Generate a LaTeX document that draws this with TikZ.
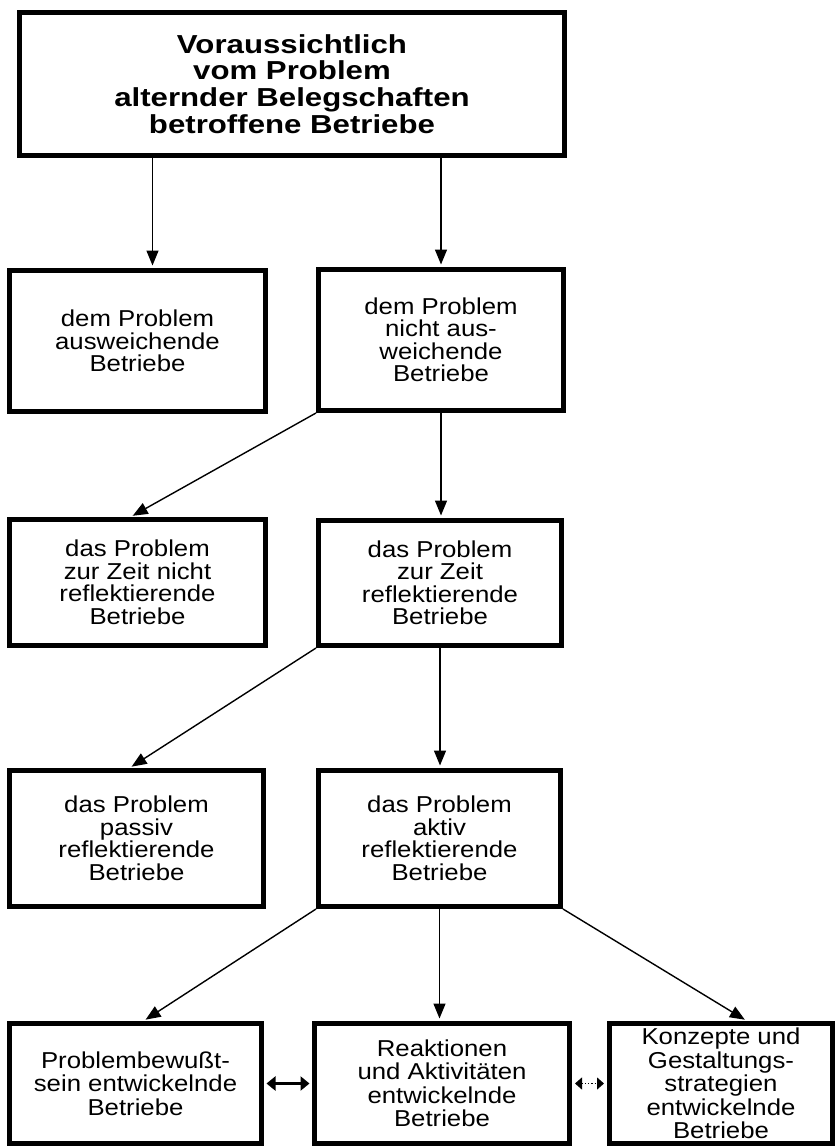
\documentclass[tikz,border=0pt]{standalone}
\usepackage{fontspec}
\setmainfont[FakeStretch=1.12]{Liberation Sans}
\newfontfamily\headfont[FakeStretch=1.2]{Liberation Sans}
\usetikzlibrary{arrows.meta}
\begin{document}
\begin{tikzpicture}[x=1pt,y=-1pt,
        box/.style={draw, line width=5pt, align=center, inner sep=0pt,
            font=\fontsize{23}{22.5}\selectfont},
        lowbox/.style={box, font=\fontsize{23}{23.5}\selectfont},
        arr/.style={-{Triangle[length=15pt,width=12pt]}, line width=1.4pt, shorten >=2.5pt},
        dblarr/.style={{Triangle[length=9pt,width=14pt]}-{Triangle[length=9pt,width=14pt]},
            line width=3.5pt, shorten <=2.5pt, shorten >=2.5pt},
        dotarr/.style={{Triangle[length=7pt,width=12pt]}-{Triangle[length=7pt,width=12pt]},
            dotted, line width=1.2pt, shorten <=3pt, shorten >=3pt}]
    \useasboundingbox (0,0) rectangle (839,1148);

    % top box
    \node[box, minimum width=545pt, minimum height=143pt,
        font=\headfont\bfseries\fontsize{26}{26.7}\selectfont] (top) at (292,84)
        {Voraussichtlich\\vom Problem\\alternder Belegschaften\\betroffene Betriebe};

    % second row
    \node[box, minimum width=256pt, minimum height=141pt] (l2) at (137.5,341)
        {dem Problem\\ausweichende\\Betriebe};
    \node[box, minimum width=245pt, minimum height=141pt] (r2) at (441,340)
        {dem Problem\\nicht aus-\\weichende\\Betriebe};

    % third row
    \node[box, minimum width=256pt, minimum height=126pt] (l3) at (137.5,582.5)
        {das Problem\\zur Zeit nicht\\reflektierende\\Betriebe};
    \node[box, minimum width=243pt, minimum height=125pt] (r3) at (440,583)
        {das Problem\\zur Zeit\\reflektierende\\Betriebe};

    % fourth row
    \node[box, minimum width=254pt, minimum height=136pt] (l4) at (136.5,838.5)
        {das Problem\\passiv\\reflektierende\\Betriebe};
    \node[box, minimum width=242pt, minimum height=136pt] (r4) at (439.5,838.5)
        {das Problem\\aktiv\\reflektierende\\Betriebe};

    % bottom row
    \node[lowbox, minimum width=252pt, minimum height=120pt] (l5) at (135.5,1083.5)
        {Problembewußt-\\sein entwickelnde\\Betriebe};
    \node[lowbox, minimum width=255pt, minimum height=120pt] (m5) at (442,1083.5)
        {Reaktionen\\und Aktivitäten\\entwickelnde\\Betriebe};
    \node[lowbox, minimum width=223pt, minimum height=120pt] (r5) at (721,1083.5)
        {Konzepte und\\Gestaltungs-\\strategien\\entwickelnde\\Betriebe};

    % connectors
    \draw[arr] ([xshift=15pt]l2.north |- top.south) -- ([xshift=15pt]l2.north);
    \draw[arr] (r2.north |- top.south) -- (r2.north);
    \draw[arr] (r2.south west) -- ([xshift=-7pt]l3.north);
    \draw[arr] (r2.south) -- (r2.south |- r3.north);
    \draw[arr] (r3.south west) -- ([xshift=-7pt]l4.north);
    \draw[arr] (r3.south) -- (r3.south |- r4.north);
    \draw[arr] (r4.south west) -- ([xshift=8pt]l5.north);
    \draw[arr] (r4.south) -- (r4.south |- m5.north);
    \draw[arr] (r4.south east) -- ([xshift=26pt]r5.north);

    \draw[dblarr] (l5.east) -- (m5.west);
    \draw[dotarr] (m5.east) -- (r5.west);
\end{tikzpicture}
\end{document}
